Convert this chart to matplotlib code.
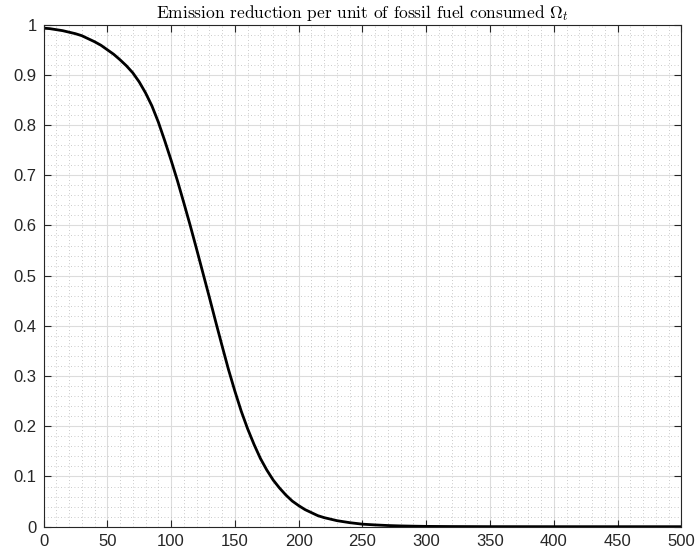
import matplotlib
matplotlib.use("Agg")
import matplotlib.pyplot as plt
from matplotlib.ticker import MultipleLocator, FormatStrFormatter

# ======================
# DATA
# ======================
t = [0, 5, 10, 15, 20, 25, 30, 35, 40, 45,
     50, 55, 60, 65, 70, 75, 80, 85, 90, 95,
     100, 105, 110, 115, 120, 125, 130, 135, 140, 145,
     150, 155, 160, 165, 170, 175, 180, 185, 190, 195,
     200, 205, 210, 215, 220, 225, 230, 235, 240, 245,
     250, 260, 270, 280, 290, 300, 320, 350, 400, 450, 500]
omega = [0.993, 0.992, 0.990, 0.988, 0.985, 0.982, 0.978, 0.972, 0.966, 0.959,
         0.950, 0.941, 0.930, 0.918, 0.904, 0.886, 0.864, 0.838, 0.806, 0.769,
         0.730, 0.689, 0.645, 0.600, 0.553, 0.505, 0.457, 0.408, 0.360, 0.313,
         0.270, 0.230, 0.195, 0.164, 0.136, 0.113, 0.093, 0.077, 0.063, 0.051,
         0.042, 0.034, 0.028, 0.022, 0.018, 0.015, 0.012, 0.010, 0.008, 0.0065,
         0.005, 0.0035, 0.0023, 0.0015, 0.001, 0.0006, 0.0003, 0.0001, 0.00002, 0.0, 0.0]

title = r"Emission reduction per unit of fossil fuel consumed $\Omega_t$"

# ======================
# PLOT
# ======================
plt.rcParams["mathtext.fontset"] = "cm"
plt.rcParams["font.family"] = ["Liberation Sans", "DejaVu Sans"]

fig = plt.figure(figsize=(6.96, 5.6), dpi=100)
ax = fig.add_axes([0.0625, 0.0595, 0.9165, 0.8965])

ax.plot(t, omega, color="black", linewidth=2.0)

ax.set_xlim(0, 500)
ax.set_ylim(0, 1)
ax.xaxis.set_major_locator(MultipleLocator(50))
ax.xaxis.set_minor_locator(MultipleLocator(10))
ax.yaxis.set_major_locator(MultipleLocator(0.1))
ax.yaxis.set_minor_locator(MultipleLocator(0.02))
ax.yaxis.set_major_formatter(FormatStrFormatter("%g"))

ax.grid(which="major", color="#dcdcdc", linewidth=0.8)
ax.grid(which="minor", color="#b8b8b8", linewidth=0.6, linestyle=(0, (1, 3)))
ax.set_axisbelow(True)

ax.tick_params(which="major", direction="in", length=5, width=0.8,
               top=True, right=True, labelsize=12, colors="#262626",
               pad=5)
ax.tick_params(which="minor", length=0)
for s in ax.spines.values():
    s.set_color("#262626")
    s.set_linewidth(0.8)

ax.set_title(title, fontfamily="cmr10", fontsize=12.5, pad=5)

fig.savefig("out.png", dpi=100)
